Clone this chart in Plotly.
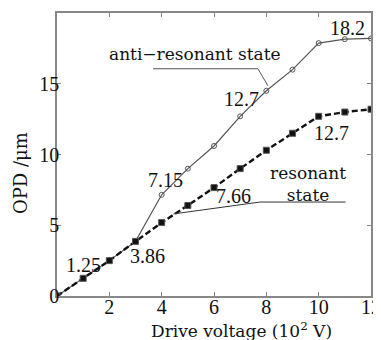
import plotly.graph_objects as go

voltage = [0, 1, 2, 3, 4, 5, 6, 7, 8, 9, 10, 11, 12]
opd_anti = [0, 1.25, 2.5, 3.86, 7.15, 9.0, 10.6, 12.7, 14.5, 16.0, 17.87, 18.15, 18.2]
opd_res = [0, 1.25, 2.5, 3.86, 5.19, 6.4, 7.66, 9.0, 10.3, 11.5, 12.7, 13.0, 13.2]

x_ticks = [2, 4, 6, 8, 10, 12]
y_ticks = [0, 5, 10, 15]

value_labels = ["1.25", "3.86", "7.15", "7.66", "12.7", "12.7", "18.2"]
label_x = [1.02, 3.45, 4.13, 6.73, 7.04, 10.5, 11.1]
label_y = [2.2, 2.82, 8.2, 7.1, 13.9, 11.5, 18.95]

NUMFONT = "Liberation Serif, Times New Roman, serif"
TXTFONT = "DejaVu Serif, serif"
NFS = 20
TFS = 17
INK = "#111111"

# page body has an 8px margin, so the figure is sized to fit the window
W, H = 373, 332
L, R, T, B = 49, 10, 5, 44
PW, PH = W - L - R, H - T - B

fig = go.Figure()

fig.add_trace(go.Scatter(
    x=voltage, y=opd_anti, mode="lines+markers",
    line=dict(color="#555555", width=1.2),
    marker=dict(symbol="circle-open", size=5, color="#555555", line=dict(width=1)),
    showlegend=False))
fig.add_trace(go.Scatter(
    x=voltage, y=opd_res, mode="lines+markers",
    line=dict(color=INK, width=2.4, dash="6px,3px"),
    marker=dict(symbol="square", size=6, color=INK, line=dict(color="#555555", width=1)),
    showlegend=False))

# leader lines
fig.add_trace(go.Scatter(x=[3.67, 7.68, 8.06], y=[16.06, 16.06, 14.86], mode="lines",
                         line=dict(color="#555555", width=1), showlegend=False, hoverinfo="skip"))
fig.add_trace(go.Scatter(x=[4.45, 7.76, 11.03], y=[5.8, 6.64, 6.64], mode="lines",
                         line=dict(color="#333333", width=1), showlegend=False, hoverinfo="skip"))

for t, lx, ly in zip(value_labels, label_x, label_y):
    fig.add_annotation(x=lx, y=ly, text=t, showarrow=False,
                       font=dict(family=NUMFONT, size=NFS, color=INK))

fig.add_annotation(x=1.92, y=17.1, text="anti\u2212resonant state",
                   showarrow=False, xanchor="left",
                   font=dict(family=TXTFONT, size=TFS, color=INK))
fig.add_annotation(x=9.6, y=7.9, text="resonant<br>state",
                   showarrow=False,
                   font=dict(family=TXTFONT, size=TFS, color=INK))

# axis titles as annotations (both sit off-centre in the reference)
fig.add_annotation(xref="paper", yref="paper", x=(233 - L) / PW, y=-(322 - (T + PH)) / PH,
                   text="Drive voltage (10<sup>2</sup> V)", showarrow=False,
                   xanchor="center", yanchor="middle",
                   font=dict(family=TXTFONT, size=TFS, color=INK))
fig.add_annotation(xref="paper", yref="paper", x=(12 - L) / PW, y=((T + PH) - 165) / PH,
                   text="OPD /\u03bcm", showarrow=False, textangle=-90,
                   xanchor="center", yanchor="middle",
                   font=dict(family=TXTFONT, size=18, color=INK))

axis_common = dict(showgrid=False, zeroline=False, showline=True, linecolor="#888888",
                   linewidth=1.5, mirror="ticks", ticks="inside", ticklen=4, automargin=False,
                   tickcolor="#888888", tickfont=dict(family=NUMFONT, size=NFS, color=INK))

fig.update_xaxes(range=[0, 12], tickvals=x_ticks, ticklabelstandoff=-8, **axis_common)
fig.update_yaxes(range=[0, 20], tickvals=y_ticks, ticklabelstandoff=-8, **axis_common)

fig.update_layout(width=W, height=H, margin=dict(l=L, r=R, t=T, b=B, autoexpand=False),
                  plot_bgcolor="white", paper_bgcolor="white")

fig.write_html("out.html")
